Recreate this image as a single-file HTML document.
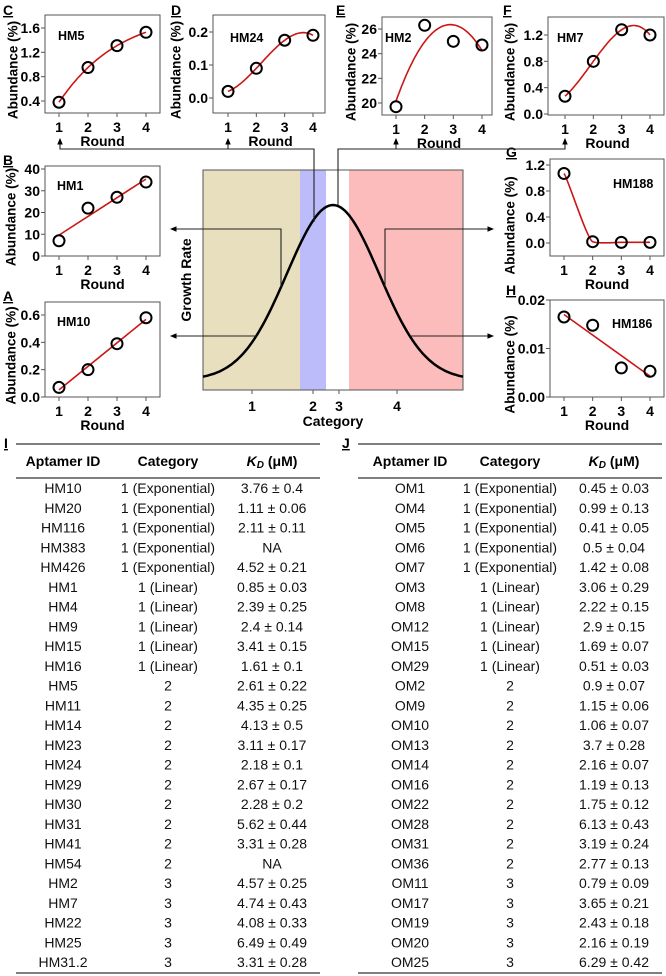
<!DOCTYPE html>
<html><head><meta charset="utf-8"><style>
html,body{margin:0;padding:0;background:#fff;}
svg{display:block;font-family:"Liberation Sans",Arial,sans-serif;}
</style></head><body>
<svg id="fig" width="666" height="976" viewBox="0 0 666 976">
<defs><marker id="ah" markerWidth="6" markerHeight="6" refX="5" refY="3" orient="auto"><path d="M0,0.5 L6,3 L0,5.5 z" fill="#000"/></marker></defs>
</svg>
<script>
const rounds=[1,2,3,4];
const hm5=[0.38,0.95,1.31,1.53];
const hm24=[0.02,0.09,0.175,0.19];
const hm2=[19.7,26.3,25.0,24.7];
const hm7=[0.27,0.8,1.28,1.2];
const hm1=[7,22,27,34];
const hm10=[0.07,0.2,0.39,0.58];
const hm188=[1.07,0.02,0.01,0.01];
const hm186=[0.0165,0.0148,0.006,0.0053];
const ticksC=[0.4,0.8,1.2,1.6], labC=['0.4','0.8','1.2','1.6'];
const ticksD=[0,0.1,0.2], labD=['0.0','0.1','0.2'];
const ticksE=[20,22,24,26], labE=['20','22','24','26'];
const ticksF=[0,0.4,0.8,1.2], labF=['0.0','0.4','0.8','1.2'];
const ticksB=[0,10,20,30,40], labB=['0','10','20','30','40'];
const ticksA=[0,0.2,0.4,0.6], labA=['0.0','0.2','0.4','0.6'];
const ticksG=[0,0.4,0.8,1.2], labG=['0.0','0.4','0.8','1.2'];
const ticksH=[0,0.01,0.02], labH=['0.00','0.01','0.02'];

const tblIid=['HM10','HM20','HM116','HM383','HM426','HM1','HM4','HM9','HM15','HM16','HM5','HM11','HM14','HM23','HM24','HM29','HM30','HM31','HM41','HM54','HM2','HM7','HM22','HM25','HM31.2'];
const tblIcat=['1 (Exponential)','1 (Exponential)','1 (Exponential)','1 (Exponential)','1 (Exponential)','1 (Linear)','1 (Linear)','1 (Linear)','1 (Linear)','1 (Linear)','2','2','2','2','2','2','2','2','2','2','3','3','3','3','3'];
const tblIkd=['3.76 ± 0.4','1.11 ± 0.06','2.11 ± 0.11','NA','4.52 ± 0.21','0.85 ± 0.03','2.39 ± 0.25','2.4 ± 0.14','3.41 ± 0.15','1.61 ± 0.1','2.61 ± 0.22','4.35 ± 0.25','4.13 ± 0.5','3.11 ± 0.17','2.18 ± 0.1','2.67 ± 0.17','2.28 ± 0.2','5.62 ± 0.44','3.31 ± 0.28','NA','4.57 ± 0.25','4.74 ± 0.43','4.08 ± 0.33','6.49 ± 0.49','3.31 ± 0.28'];
const tblJid=['OM1','OM4','OM5','OM6','OM7','OM3','OM8','OM12','OM15','OM29','OM2','OM9','OM10','OM13','OM14','OM16','OM22','OM28','OM31','OM36','OM11','OM17','OM19','OM20','OM25'];
const tblJcat=['1 (Exponential)','1 (Exponential)','1 (Exponential)','1 (Exponential)','1 (Exponential)','1 (Linear)','1 (Linear)','1 (Linear)','1 (Linear)','1 (Linear)','2','2','2','2','2','2','2','2','2','2','3','3','3','3','3'];
const tblJkd=['0.45 ± 0.03','0.99 ± 0.13','0.41 ± 0.05','0.5 ± 0.04','1.42 ± 0.08','3.06 ± 0.29','2.22 ± 0.15','2.9 ± 0.15','1.69 ± 0.07','0.51 ± 0.03','0.9 ± 0.07','1.15 ± 0.06','1.06 ± 0.07','3.7 ± 0.28','2.16 ± 0.07','1.19 ± 0.13','1.75 ± 0.12','6.13 ± 0.43','3.19 ± 0.24','2.77 ± 0.13','0.79 ± 0.09','3.65 ± 0.21','2.43 ± 0.18','2.16 ± 0.19','6.29 ± 0.42'];

const svg=document.getElementById('fig');
const NS='http://www.w3.org/2000/svg';
function mk(tag,attrs,txt){const e=document.createElementNS(NS,tag);for(const k in attrs)e.setAttribute(k,attrs[k]);if(txt!==undefined)e.textContent=txt;svg.appendChild(e);return e;}

const panels=[
 {id:'c',letter:'C',name:'HM5',vals:hm5,ticks:ticksC,labs:labC,box:[45,15,160,113],d:[0.4,1.6],p:[101,28],xt:[59,88,117,146],fit:'poly',lab:[58,40],ax:13,lx:3,ly:11,ty:0},
 {id:'d',letter:'D',name:'HM24',vals:hm24,ticks:ticksD,labs:labD,box:[213,15,325,113],d:[0,0.2],p:[98,32],xt:[228,256,284,313],fit:'poly',lab:[230,42],ax:176,lx:171,ly:11,ty:0},
 {id:'e',letter:'E',name:'HM2',vals:hm2,ticks:ticksE,labs:labE,box:[382,17,492,115],d:[20,26],p:[103,29],xt:[396,425,454,482],fit:'quad',lab:[385,42],ax:351,lx:336,ly:11,ty:0},
 {id:'f',letter:'F',name:'HM7',vals:hm7,ticks:ticksF,labs:labF,box:[548,17,664,115],d:[0,1.2],p:[114,35],xt:[565,594,622,650],fit:'poly',lab:[557,42],ax:510,lx:503,ly:11,ty:0},
 {id:'b',letter:'B',name:'HM1',vals:hm1,ticks:ticksB,labs:labB,box:[45,166,160,256],d:[0,40],p:[256,169],xt:[59,88,117,146],fit:'lin',lab:[57,190],ax:11,lx:3,ly:161,ty:0},
 {id:'a',letter:'A',name:'HM10',vals:hm10,ticks:ticksA,labs:labA,box:[45,302,160,397],d:[0,0.6],p:[397,315],xt:[59,88,117,146],fit:'lin',lab:[57,326],ax:11,lx:3,ly:297,ty:0},
 {id:'g',letter:'G',name:'HM188',vals:hm188,ticks:ticksG,labs:labG,box:[550,159,664,256],d:[0,1.2],p:[243,165],xt:[564,593,621,650],fit:'cr',lab:[613,188],ax:510,lx:506,ly:153,ty:12},
 {id:'h',letter:'H',name:'HM186',vals:hm186,ticks:ticksH,labs:labH,box:[550,300,664,397],d:[0,0.02],p:[397,300],xt:[564,593,621,650],fit:'lin',lab:[612,328],ax:510,lx:506,ly:291,ty:10}
];

panels.forEach(P=>{
 const [x0,y0,x1,y1]=P.box;
 const ys=v=>P.p[0]+(v-P.d[0])*(P.p[1]-P.p[0])/(P.d[1]-P.d[0]);
 const xs=r=>P.xt[0]+(r-1)*(P.xt[3]-P.xt[0])/3;
 let el=mk('rect',{x:x0,y:y0,width:x1-x0,height:y1-y0,fill:'#fff',stroke:'#555','stroke-width':1});
 
 
 P.ticks.forEach((t,i)=>{
  let tk=mk('line',{x1:x0-4,x2:x0,y1:ys(t),y2:ys(t),stroke:'#555'});
  
  
  let tl=mk('text',{x:x0-5,y:ys(t)+5,'text-anchor':'end','font-size':14,'font-weight':'bold'},P.labs[i]);
  
  
 });
 rounds.forEach(r=>{
  let tk=mk('line',{x1:xs(r),x2:xs(r),y1:y1,y2:y1+4,stroke:'#555'});
  
  
  let tl=mk('text',{x:xs(r),y:y1+19,'text-anchor':'middle','font-size':14,'font-weight':'bold'},String(r));
  
  
 });
 let xt=mk('text',{x:(P.xt[0]+P.xt[3])/2,y:y1+33,'text-anchor':'middle','font-size':14,'font-weight':'bold'},'Round');
 
 
 const cy=(y0+y1)/2+6+P.ty;
 let yt=mk('text',{x:P.ax,y:cy,'text-anchor':'middle','font-size':13.5,'font-weight':'bold',transform:'rotate(-90 '+P.ax+' '+cy+')','dominant-baseline':'central'},'Abundance (%)');
 
 
 let lt=mk('text',{x:P.lx,y:P.ly+4,'font-size':14,'font-weight':'bold','text-decoration':'underline'},P.letter);
 
 
 let nm=mk('text',{x:P.lab[0],y:P.lab[1],'font-size':12.5,'font-weight':'bold'},P.name);
 
 
 const v=P.vals;let d='';
 if(P.fit==='lin'){
  const mx=2.5,my=v.reduce((a,b)=>a+b)/4;let sxy=0,sxx=0;
  rounds.forEach((r,i)=>{sxy+=(r-mx)*(v[i]-my);sxx+=(r-mx)*(r-mx);});
  const m=sxy/sxx,b=my-m*mx;
  d='M'+xs(1)+','+ys(m+b)+' L'+xs(4)+','+ys(4*m+b);
 } else if(P.fit==='quad'){
  const my=v.reduce((a,b)=>a+b)/4;let sty=0,sqy=0;
  rounds.forEach((r,i)=>{const t=r-2.5;sty+=t*v[i];sqy+=(t*t-1.25)*v[i];});
  const b=sty/5,c=sqy/4,a=my-c*1.25;
  for(let k=0;k<=60;k++){const r=1+3*k/60,t=r-2.5;const s=a+b*t+c*t*t;
   d+=(k?'L':'M')+xs(r).toFixed(1)+','+ys(s).toFixed(1)+' ';}
 } else if(P.fit==='poly'){
  for(let k=0;k<=60;k++){const r=1+3*k/60;let s=0;
   for(let i=0;i<4;i++){let L=1;for(let j=0;j<4;j++)if(j!==i)L*=(r-rounds[j])/(rounds[i]-rounds[j]);s+=L*v[i];}
   d+=(k?'L':'M')+xs(r).toFixed(1)+','+ys(s).toFixed(1)+' ';}
 } else {
  const pts=rounds.map((r,i)=>[xs(r),ys(v[i])]);
  d='M'+pts[0][0]+','+pts[0][1];
  for(let i=0;i<3;i++){const p0=pts[Math.max(0,i-1)],p1=pts[i],p2=pts[i+1],p3=pts[Math.min(3,i+2)];
   const c1=[p1[0]+(p2[0]-p0[0])/6*0.6,p1[1]+(p2[1]-p0[1])/6*0.2],c2=[p2[0]-(p3[0]-p1[0])/6*0.6,p2[1]-(p3[1]-p1[1])/6*0.2];
   d+=' C'+c1+' '+c2+' '+p2;}
 }
 let fl=mk('path',{d:d,fill:'none',stroke:'#cc1616','stroke-width':1.6});
 
 
 rounds.forEach((r,i)=>{
  let c=mk('circle',{cx:xs(r),cy:ys(v[i]),r:5.5,fill:'none',stroke:'#000','stroke-width':2});
  
  
 });
});

const bands=[[203,300,'#e8dfbf'],[300,326,'#bcbcfa'],[326,349,'#ffffff'],[349,463,'#fdbcbc']];
bands.forEach((b,i)=>{let r=mk('rect',{x:b[0],y:170,width:b[1]-b[0],height:220,fill:b[2]});
 
 });
let cf=mk('rect',{x:203,y:170,width:260,height:220,fill:'none',stroke:'#555'});


let gd='';for(let x=203;x<=463;x+=2){const y=390-(10+175*Math.exp(-Math.pow(x-333,2)/4269));gd+=(x===203?'M':'L')+x+','+y.toFixed(1)+' ';}
let gc=mk('path',{d:gd,fill:'none',stroke:'#000','stroke-width':2.5});


const catX=[252,313,339,397],catL=['1','2','3','4'];
catX.forEach((x,i)=>{let t=mk('line',{x1:x,x2:x,y1:390,y2:394,stroke:'#555'});
 
 
 let l=mk('text',{x:x,y:411,'text-anchor':'middle','font-size':14,'font-weight':'bold'},catL[i]);
 
 });
let ct=mk('text',{x:333,y:426,'text-anchor':'middle','font-size':14,'font-weight':'bold'},'Category');


let gr=mk('text',{x:186,y:280,'text-anchor':'middle','font-size':14,'font-weight':'bold',transform:'rotate(-90 186 280)','dominant-baseline':'central'},'Growth Rate');



const conns=[
 ['M314,222 L314,149 L60,149 L60,139',1],['M228,149 L228,139',1],
 ['M338,205 L338,149 L565,149 L565,139',1],['M396,149 L396,139',1],
 ['M281,287 L281,229 L171,229',1],['M257,336 L171,336',1],
 ['M385,287 L385,229 L493,229',1],['M410,336 L493,336',1]];
conns.forEach(c=>{let p=mk('path',{d:c[0],fill:'none',stroke:'#222','stroke-width':1.1,'marker-end':'url(#ah)'});
 
 });

function table(tag,letter,lx,rx0,rx1,cols,ids,cats,kds){
 let L=mk('text',{x:lx,y:448,'font-size':14,'font-weight':'bold','text-decoration':'underline'},letter);
 
 
 [[444,1.6],[478,1.6],[973,1.6]].forEach(r=>{let ln=mk('line',{x1:rx0,x2:rx1,y1:r[0],y2:r[0],stroke:'#555','stroke-width':r[1]});
  
  });
 let h1=mk('text',{x:cols[0],y:466,'text-anchor':'middle','font-size':14,'font-weight':'bold'},'Aptamer ID');
 
 
 let h2=mk('text',{x:cols[1],y:466,'text-anchor':'middle','font-size':14,'font-weight':'bold'},'Category');
 
 
 let h3=mk('text',{x:cols[2],y:466,'text-anchor':'middle','font-size':14,'font-weight':'bold'});
 
 
 h3.innerHTML='<tspan font-style="italic">K</tspan><tspan font-style="italic" font-size="10" dy="2">D</tspan><tspan dy="-2"> (μM)</tspan>';
 ids.forEach((id,i)=>{const y=493+i*19.75;
  let a=mk('text',{x:cols[0],y:y,'text-anchor':'middle','font-size':14,fill:'#111'},id);
  
  
  let b=mk('text',{x:cols[1],y:y,'text-anchor':'middle','font-size':14,fill:'#111'},cats[i]);
  
  
  let c=mk('text',{x:cols[2],y:y,'text-anchor':'middle','font-size':14,fill:'#111'},kds[i]);
  
  });
}
table('i','I',4,16,320,[63,168,272],tblIid,tblIcat,tblIkd);
table('j','J',342,358,662,[410,510,614],tblJid,tblJcat,tblJkd);
</script>
</body></html>
